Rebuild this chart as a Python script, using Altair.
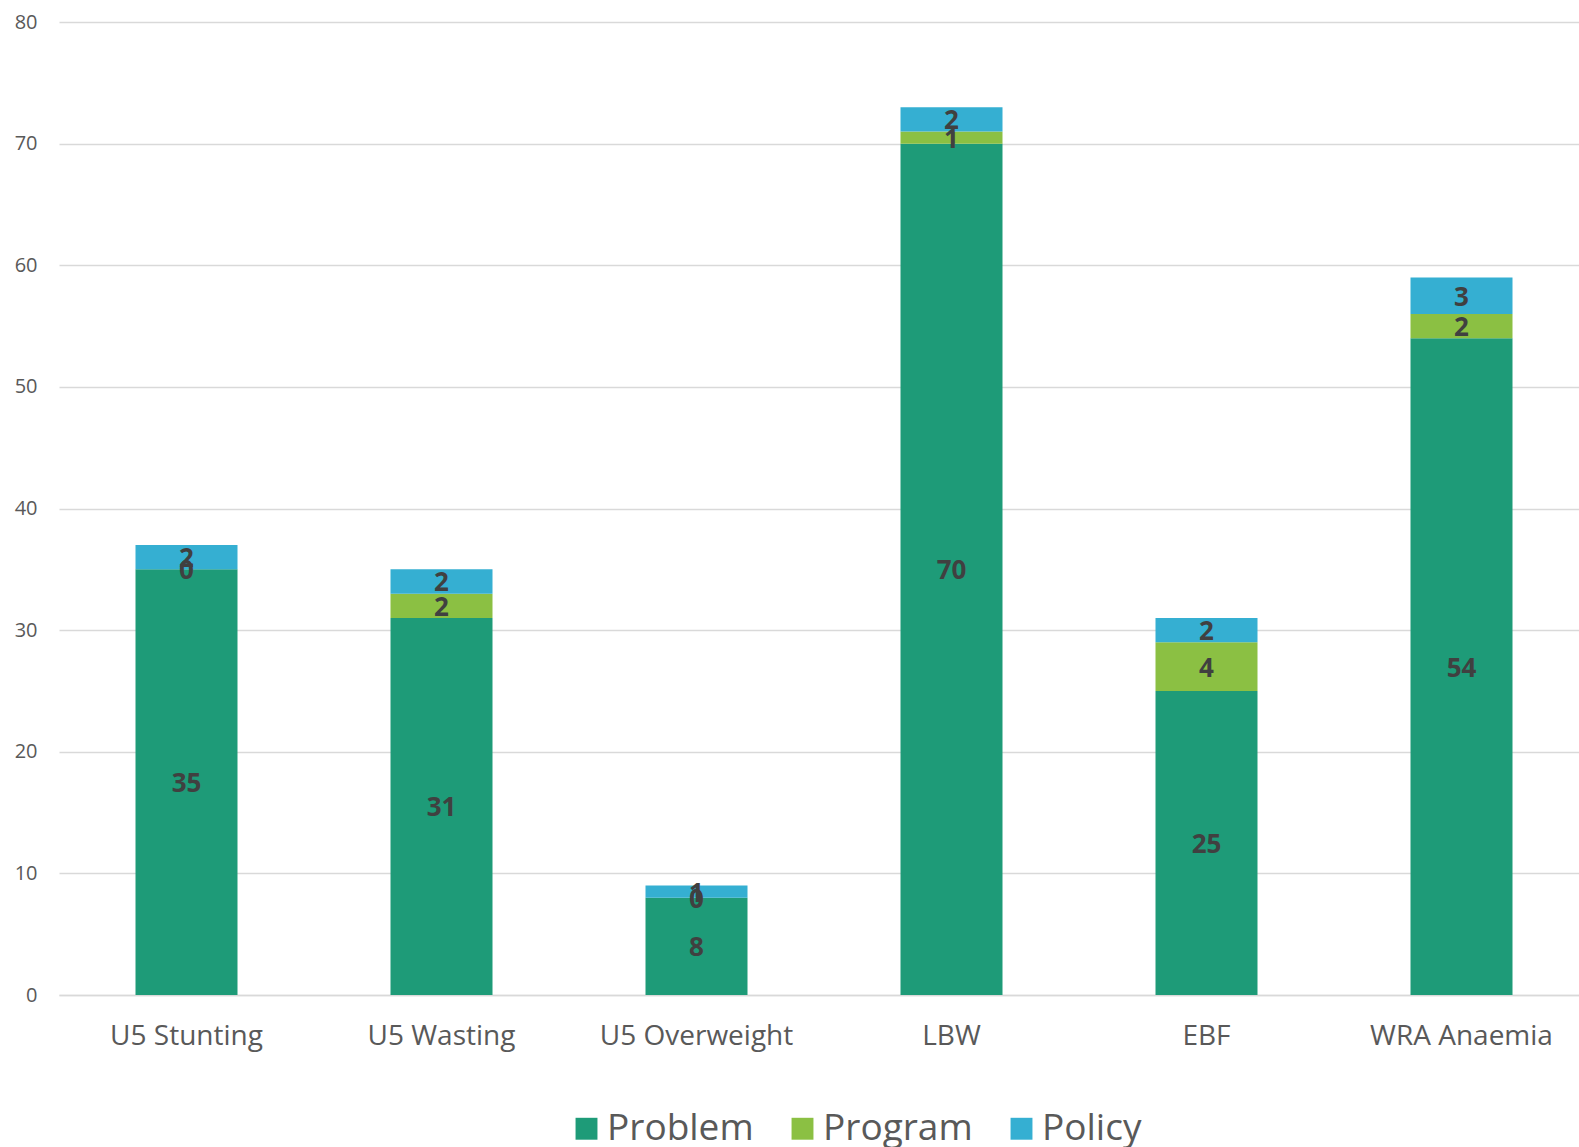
import altair as alt
import pandas as pd

categories = ["U5 Stunting", "U5 Wasting", "U5 Overweight", "LBW", "EBF", "WRA Anaemia"]
series = ["Problem", "Program", "Policy"]
problem = [35, 31, 8, 70, 25, 54]
program = [0, 2, 0, 1, 4, 2]
policy = [2, 2, 1, 2, 2, 3]
colors = ["#1e9b78", "#8bc043", "#35afd2"]

rows = []
for i, c in enumerate(categories):
    for j, (s, vals) in enumerate(zip(series, [problem, program, policy])):
        rows.append({"category": c, "series": s, "order": j, "value": vals[i]})
df = pd.DataFrame(rows)

FONT = "Open Sans"

base = alt.Chart(df).transform_stack(
    stack="value", groupby=["category"], as_=["y0", "y1"],
    sort=[alt.SortField("order", order="ascending")]
).transform_calculate(mid="(datum.y0 + datum.y1) / 2")

xscale = alt.Scale(paddingInner=0.6, paddingOuter=0.3, range=[0, 1530])
yscale = alt.Scale(domain=[0, 80], nice=False)

x = alt.X("category:N", sort=categories, title=None, scale=xscale,
          axis=alt.Axis(labelAngle=0, labelFontSize=28, labelColor="#595959",
                        labelFont=FONT, labelPadding=27, labelLimit=400, domain=True,
                        domainColor="#d9d9d9", domainWidth=1.5, ticks=False, grid=False))

bars = base.mark_bar().encode(
    x=x,
    y=alt.Y("y0:Q", title=None, scale=yscale,
            axis=alt.Axis(values=list(range(0, 81, 10)), labelFontSize=20,
                          labelColor="#595959", labelFont=FONT, labelPadding=22,
                          domain=False, ticks=False, grid=True,
                          gridColor="#d9d9d9", gridWidth=1.5)),
    y2="y1:Q",
    color=alt.Color("series:N", sort=series,
                    scale=alt.Scale(domain=series, range=colors),
                    legend=alt.Legend(title=None, orient="none", direction="horizontal",
                                      legendX=509, legendY=1088,
                                      symbolType="square", symbolSize=480,
                                      symbolStrokeWidth=0, labelFontSize=37,
                                      labelFont=FONT, labelColor="#595959",
                                      labelOffset=2, columnPadding=30)),
    order=alt.Order("order:Q"),
)

labels = base.mark_text(fontSize=26, fontWeight="bold", color="#404040",
                        font=FONT, baseline="middle", dy=2).encode(
    x=alt.X("category:N", sort=categories, scale=xscale),
    y=alt.Y("mid:Q", scale=yscale),
    text=alt.Text("value:Q"),
)

chart = alt.layer(bars, labels).properties(
    width=1520, height=973,
    padding={"left": 59, "top": 22, "right": 0, "bottom": 152},
    autosize=alt.AutoSizeParams(type="none"),
    background="white",
).configure_view(strokeWidth=0, stroke="transparent").configure_axisY(
    domain=False
)

chart.save("out.html", embed_options={"renderer": "svg", "actions": False})
